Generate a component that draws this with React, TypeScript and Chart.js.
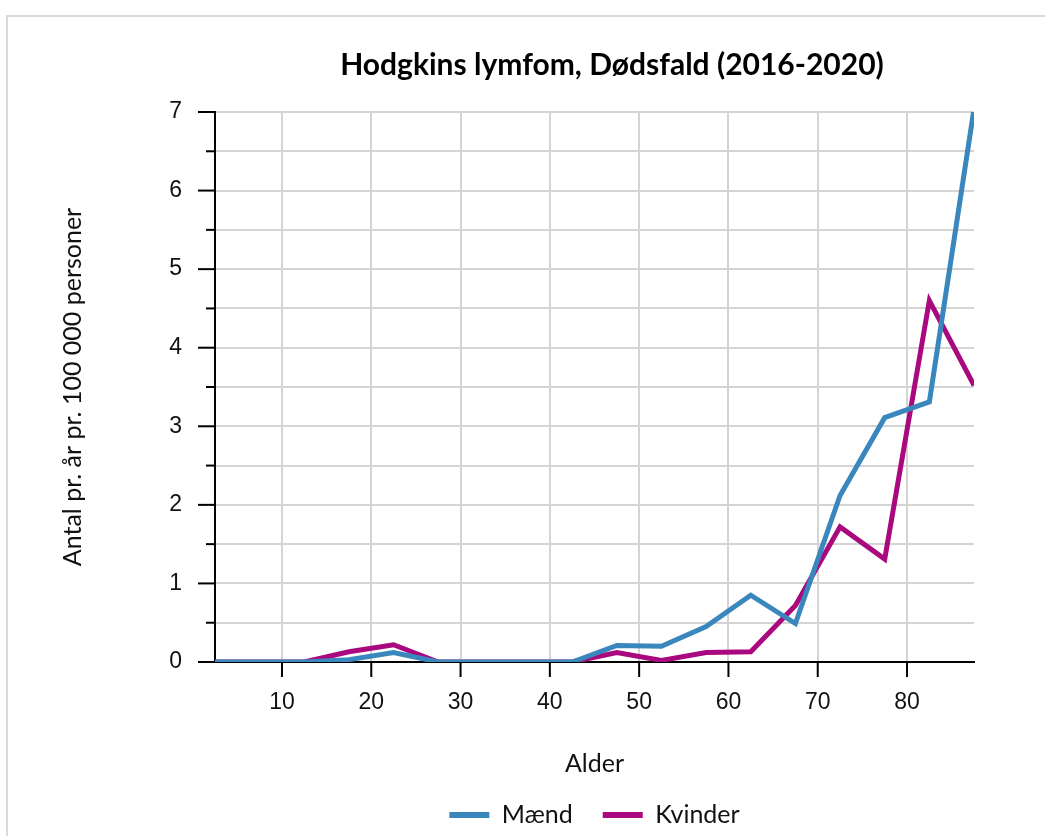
import React, { useEffect, useRef } from "react";
import { Chart, registerables } from "chart.js";

Chart.register(...registerables);

const ages = [2.5, 7.5, 12.5, 17.5, 22.5, 27.5, 32.5, 37.5, 42.5, 47.5, 52.5, 57.5, 62.5, 67.5, 72.5, 77.5, 82.5, 87.5];
const maend = [0, 0, 0, 0.03, 0.12, 0, 0, 0, 0, 0.21, 0.2, 0.45, 0.85, 0.49, 2.12, 3.11, 3.31, 7.04];
const kvinder = [0, 0, 0, 0.13, 0.22, 0, 0, 0, 0, 0.12, 0.02, 0.12, 0.13, 0.72, 1.72, 1.31, 4.6, 3.52];
const xTicks = [10, 20, 30, 40, 50, 60, 70, 80];
const titleText = "Hodgkins lymfom, Dødsfald (2016-2020)";
const xTitle = "Alder";
const yTitle = "Antal pr. år pr. 100 000 personer";
const seriesNames = ["Mænd", "Kvinder"];
const colors = ["#3987bd", "#a9087f"];

const textFont = "Lato, 'Open Sans', sans-serif";
const tickFont = "'Liberation Sans', Arial, sans-serif";

const decorPlugin = {
  id: "decor",
  afterDraw(chart: any) {
    const ctx = chart.ctx;
    const ca = chart.chartArea;
    const y = chart.scales.y;
    const x = chart.scales.x;
    ctx.save();
    ctx.strokeStyle = "#000";
    ctx.lineWidth = 2;
    y.ticks.forEach((t: any) => {
      const py = y.getPixelForValue(t.value);
      const major = Math.abs(t.value - Math.round(t.value)) < 1e-6;
      ctx.beginPath();
      ctx.moveTo(ca.left - (major ? 17 : 9), py);
      ctx.lineTo(ca.left, py);
      ctx.stroke();
    });
    x.ticks.forEach((t: any) => {
      const px = x.getPixelForValue(t.value);
      ctx.beginPath();
      ctx.moveTo(px, ca.bottom);
      ctx.lineTo(px, ca.bottom + 15);
      ctx.stroke();
    });
    ctx.fillStyle = "#000";
    ctx.font = `bold 30px ${textFont}`;
    ctx.textAlign = "center";
    ctx.textBaseline = "alphabetic";
    ctx.fillText(titleText, 612, 75);
    ctx.restore();
  },
};

export default function App() {
  const ref = useRef<HTMLCanvasElement>(null);
  useEffect(() => {
    document.body.style.margin = "0";
    const chart = new Chart(ref.current!, {
      type: "line",
      data: {
        datasets: seriesNames.map((name, i) => ({
          label: name,
          data: ages.map((a, j) => ({ x: a, y: (i === 0 ? maend : kvinder)[j] })),
          borderColor: colors[i],
          backgroundColor: colors[i],
          borderWidth: 5,
          pointRadius: 0,
          tension: 0,
        })),
      },
      options: {
        animation: false,
        responsive: false,
        layout: { padding: { top: 112, right: 71, left: 0, bottom: -1.5 } },
        plugins: {
          tooltip: { enabled: false },
          title: { display: false },
          legend: {
            position: "bottom",
            fullSize: false,
            labels: {
              boxWidth: 40,
              boxHeight: 6,
              padding: 30,
              color: "#111",
              font: { family: textFont, size: 25 },
              generateLabels: () =>
                seriesNames.map((n, i) => ({
                  text: n,
                  fillStyle: colors[i],
                  strokeStyle: colors[i],
                  lineWidth: 0,
                  datasetIndex: i,
                  fontColor: "#111",
                })),
            },
          },
        },
        scales: {
          x: {
            type: "linear",
            min: 2.5,
            max: 87.5,
            afterBuildTicks: (s: any) => {
              s.ticks = xTicks.map((v) => ({ value: v }));
            },
            afterFit: (s: any) => {
              s.height = 110.5;
            },
            grid: { color: "#d4d4d4", lineWidth: 2, drawTicks: false },
            border: { color: "#000", width: 2 },
            ticks: {
              padding: 27,
              color: "#111",
              font: { family: tickFont, size: 23 },
              maxRotation: 0,
              autoSkip: false,
            },
            title: {
              display: true,
              text: xTitle,
              color: "#111",
              font: { family: textFont, size: 25 },
              padding: { top: 0, bottom: -6.5 },
            },
          },
          y: {
            min: 0,
            max: 7,
            afterFit: (s: any) => {
              s.width = 215;
            },
            grid: { color: "#d4d4d4", lineWidth: 2, drawTicks: false },
            border: { color: "#000", width: 2 },
            ticks: {
              stepSize: 0.5,
              padding: 33,
              color: "#111",
              font: { family: tickFont, size: 23 },
              callback: (v: any) => (Math.abs(v - Math.round(v)) < 1e-6 ? String(v) : ""),
            },
            title: {
              display: true,
              text: yTitle,
              color: "#111",
              font: { family: textFont, size: 25 },
              padding: { top: 58, bottom: 0 },
            },
          },
        },
      },
      plugins: [decorPlugin],
    } as any);
    return () => chart.destroy();
  }, []);

  return (
    <div style={{ position: "relative", width: 1045, height: 836, overflow: "hidden", background: "#fff" }}>
      <div
        style={{
          position: "absolute",
          left: 6,
          top: 15,
          width: 1100,
          height: 900,
          border: "2px solid #d9d9d9",
          boxSizing: "border-box",
        }}
      />
      <canvas ref={ref} width={1045} height={836} style={{ position: "absolute", left: 0, top: 0 }} />
    </div>
  );
}
